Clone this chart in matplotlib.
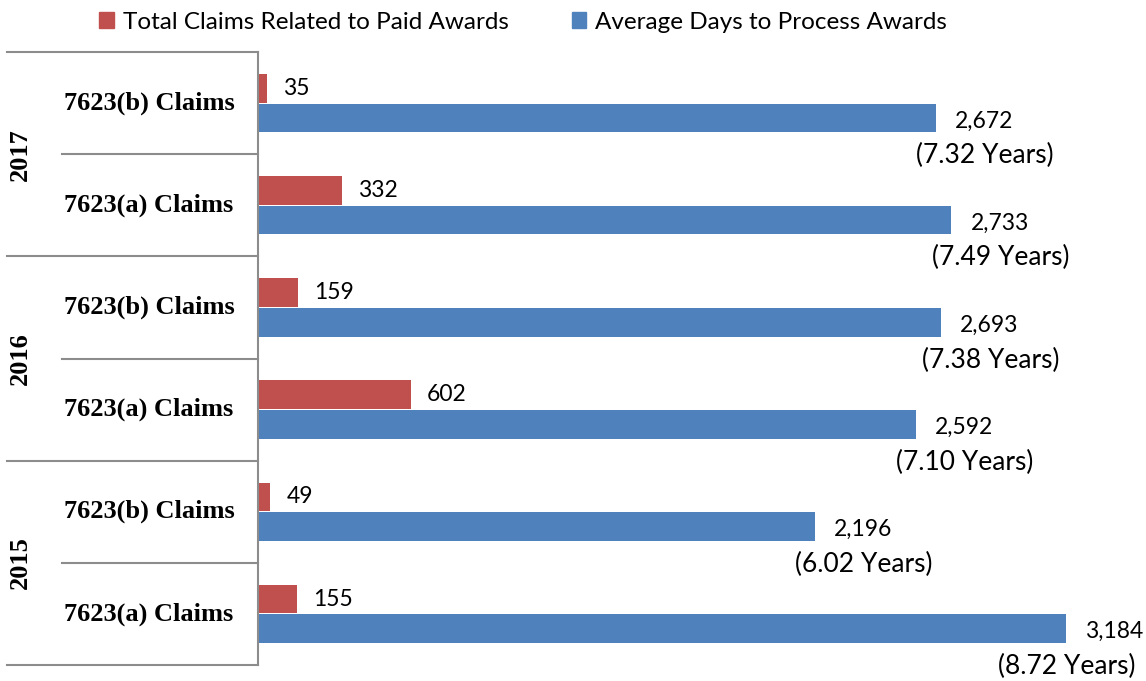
import matplotlib.pyplot as plt
from matplotlib.patches import Patch

# Data
years = ["2017", "2016", "2015"]
categories = ["7623(b) Claims", "7623(a) Claims"] * 3
total_claims = [35, 332, 159, 602, 49, 155]
avg_days = [2672, 2733, 2693, 2592, 2196, 3184]
years_labels = ["(7.32 Years)", "(7.49 Years)", "(7.38 Years)",
                "(7.10 Years)", "(6.02 Years)", "(8.72 Years)"]

red = "#C0504D"
blue = "#4F81BD"
gray = "#8C8C8C"

W, H = 1146, 681
fig = plt.figure(figsize=(W / 100, H / 100), dpi=100)
left, right, top, bottom = 258, 1146, 52, 665
ax = fig.add_axes([left / W, (H - bottom) / H, (right - left) / W, (bottom - top) / H])

xmax = 3500
ax.set_xlim(0, xmax)
ax.set_ylim(len(categories) - 0.5, -0.5)
px = xmax / (right - left)  # data units per pixel

pos = list(range(len(categories)))
off, h = 0.145, 0.28
ax.barh([p - off for p in pos], total_claims, height=h, color=red)
ax.barh([p + off for p in pos], avg_days, height=h, color=blue)

lbl_font = "Lato"
for p, v in zip(pos, total_claims):
    ax.text(v + 16 * px, p - off, f"{v:,}", ha="left", va="center",
            fontsize=16.5, family=lbl_font)
for p, v, yl in zip(pos, avg_days, years_labels):
    ax.text(v + 19 * px, p + off + 0.03, f"{v:,}", ha="left", va="center",
            fontsize=16.5, family=lbl_font)
    cx = min(v + 49 * px, xmax - 79 * px)
    ax.text(cx, p + off + 0.37, yl, ha="center", va="center",
            fontsize=19, family=lbl_font)

# axes styling
for s in ["top", "right", "bottom"]:
    ax.spines[s].set_visible(False)
ax.spines["left"].set_color(gray)
ax.spines["left"].set_linewidth(1.5)
ax.set_xticks([])
ax.set_yticks([])

# left-hand two-level category axis
tr = ax.get_yaxis_transform()
x_outer = -(left - 7) / (right - left)
x_inner = -(left - 62) / (right - left)
for i in range(len(categories) + 1):
    y = i - 0.5
    x0 = x_outer if i % 2 == 0 else x_inner
    ax.plot([x0, 0], [y, y], color=gray, lw=1.5, transform=tr, clip_on=False)
for p, c in zip(pos, categories):
    ax.text(-(left - 149) / (right - left), p, c, transform=tr, ha="center",
            va="center", fontsize=19, fontweight="bold", family="Liberation Serif")
for i, yr in enumerate(years):
    ax.text(-(left - 20) / (right - left), 2 * i + 0.5, yr, transform=tr,
            rotation=90, ha="center", va="center", fontsize=19,
            fontweight="bold", family="Liberation Serif")

handles = [Patch(color=red, label="Total Claims Related to Paid Awards"),
           Patch(color=blue, label="Average Days to Process Awards")]
fig.legend(handles=handles, loc="upper center", bbox_to_anchor=(523 / W, 1.015),
           ncol=2, frameon=False, prop={"family": lbl_font, "size": 17.5},
           handlelength=0.6, handleheight=0.6, handletextpad=0.35, columnspacing=2.6)

fig.savefig("out.png", dpi=100)
